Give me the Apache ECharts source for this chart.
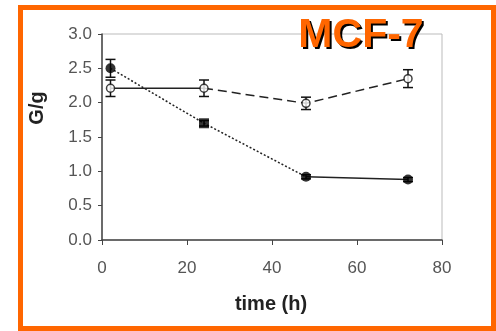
<!DOCTYPE html>
<html><head><meta charset="utf-8">
<script src="https://cdn.jsdelivr.net/npm/echarts@6/dist/echarts.min.js"></script>
<style>html,body{margin:0;padding:0;background:#fff}#c{width:496px;height:331px}</style>
</head><body><div id="c"></div>
<script>
var timeH = [2, 24, 48, 72];
var filledVals = [2.50, 1.70, 0.92, 0.88];
var filledErr = [0.13, 0.04, 0.03, 0.03];
var openVals = [2.21, 2.21, 1.99, 2.35];
var openErr = [0.12, 0.12, 0.09, 0.13];
var xTicks = [0, 20, 40, 60, 80];
var yTicks = [0.0, 0.5, 1.0, 1.5, 2.0, 2.5, 3.0];
var filledSymbols = ['circle', 'rect', 'circle', 'circle'];

function seg(ys, i, j) {
  var out = [];
  for (var k = i; k <= j; k++) out.push([timeH[k], ys[k]]);
  return out;
}
function errData(ys, es) {
  return timeH.map(function (t, i) { return [t, ys[i] - es[i], ys[i] + es[i]]; });
}
function errRender(params, api) {
  var x = api.value(0);
  var lo = api.coord([x, api.value(1)]);
  var hi = api.coord([x, api.value(2)]);
  var w = 5;
  var st = { stroke: '#111', lineWidth: 1.5 };
  return { type: 'group', children: [
    { type: 'line', shape: { x1: lo[0], y1: lo[1], x2: hi[0], y2: hi[1] }, style: st },
    { type: 'line', shape: { x1: lo[0] - w, y1: lo[1], x2: lo[0] + w, y2: lo[1] }, style: st },
    { type: 'line', shape: { x1: hi[0] - w, y1: hi[1], x2: hi[0] + w, y2: hi[1] }, style: st }
  ]};
}
var lblFont = { fontFamily: 'Liberation Sans, Arial, sans-serif', fontSize: 17, color: '#555' };
var chart = echarts.init(document.getElementById('c'), null, { renderer: 'canvas' });
chart.setOption({
  animation: false,
  backgroundColor: '#fff',
  grid: { left: 102, right: 54, top: 34, bottom: 91, show: true, borderColor: '#bbb', borderWidth: 1 },
  xAxis: {
    type: 'value', min: 0, max: 80, interval: 20,
    axisLine: { show: true, onZero: false, lineStyle: { color: '#444', width: 1.5 } },
    axisTick: { show: true, length: 5, lineStyle: { color: '#444' } },
    splitLine: { show: false },
    axisLabel: Object.assign({ margin: 20, formatter: function (v) { return xTicks.indexOf(v) >= 0 ? String(v) : ''; } }, lblFont)
  },
  yAxis: {
    type: 'value', min: 0, max: 3, interval: 0.5,
    axisLine: { show: true, onZero: false, lineStyle: { color: '#444', width: 1.5 } },
    axisTick: { show: true, length: 4, lineStyle: { color: '#444' } },
    splitLine: { show: false },
    axisLabel: Object.assign({ margin: 10, formatter: function (v) { return yTicks.indexOf(v) >= 0 ? v.toFixed(1) : ''; } }, lblFont)
  },
  series: [
    { type: 'line', data: seg(openVals, 0, 1), symbol: 'none', lineStyle: { color: '#222', width: 1.5, type: 'solid' }, z: 2 },
    { type: 'line', data: seg(openVals, 1, 3), symbol: 'none', lineStyle: { color: '#222', width: 1.5, type: [9, 5] }, z: 2 },
    { type: 'line', data: seg(filledVals, 0, 2), symbol: 'none', lineStyle: { color: '#222', width: 1.5, type: [2, 2] }, z: 2 },
    { type: 'line', data: seg(filledVals, 2, 3), symbol: 'none', lineStyle: { color: '#222', width: 1.5, type: 'solid' }, z: 2 },
    { type: 'custom', renderItem: errRender, data: errData(openVals, openErr), z: 3 },
    { type: 'custom', renderItem: errRender, data: errData(filledVals, filledErr), z: 3 },
    { type: 'scatter', data: timeH.map(function (t, i) { return [t, openVals[i]]; }), symbol: 'circle', symbolSize: 8,
      itemStyle: { color: '#fff', borderColor: '#111', borderWidth: 1.5 }, z: 4 },
    { type: 'scatter', data: timeH.map(function (t, i) { return { value: [t, filledVals[i]], symbol: filledSymbols[i] }; }), symbolSize: 10,
      itemStyle: { color: '#000' }, z: 5 }
  ],
  graphic: [
    { type: 'rect', shape: { x: 20.5, y: 7.5, width: 473, height: 321 }, style: { fill: 'none', stroke: '#FF6600', lineWidth: 5 }, z: 100 },
    { type: 'text', x: 363, y: 38, style: { text: 'MCF-7', fill: '#000', font: 'bold 41px "Liberation Sans", Arial, sans-serif', textAlign: 'center', textVerticalAlign: 'middle' }, z: 90 },
    { type: 'text', x: 361, y: 36, style: { text: 'MCF-7', fill: '#FF6600', font: 'bold 41px "Liberation Sans", Arial, sans-serif', textAlign: 'center', textVerticalAlign: 'middle' }, z: 91 },
    { type: 'text', x: 271, y: 304, style: { text: 'time (h)', fill: '#222', font: 'bold 20px "Liberation Sans", Arial, sans-serif', textAlign: 'center', textVerticalAlign: 'middle' }, z: 50 },
    { type: 'text', x: 37, y: 108, rotation: Math.PI / 2, style: { text: 'G/g', fill: '#222', font: 'bold 20px "Liberation Sans", Arial, sans-serif', textAlign: 'center', textVerticalAlign: 'middle' }, z: 50 }
  ]
});
</script></body></html>
